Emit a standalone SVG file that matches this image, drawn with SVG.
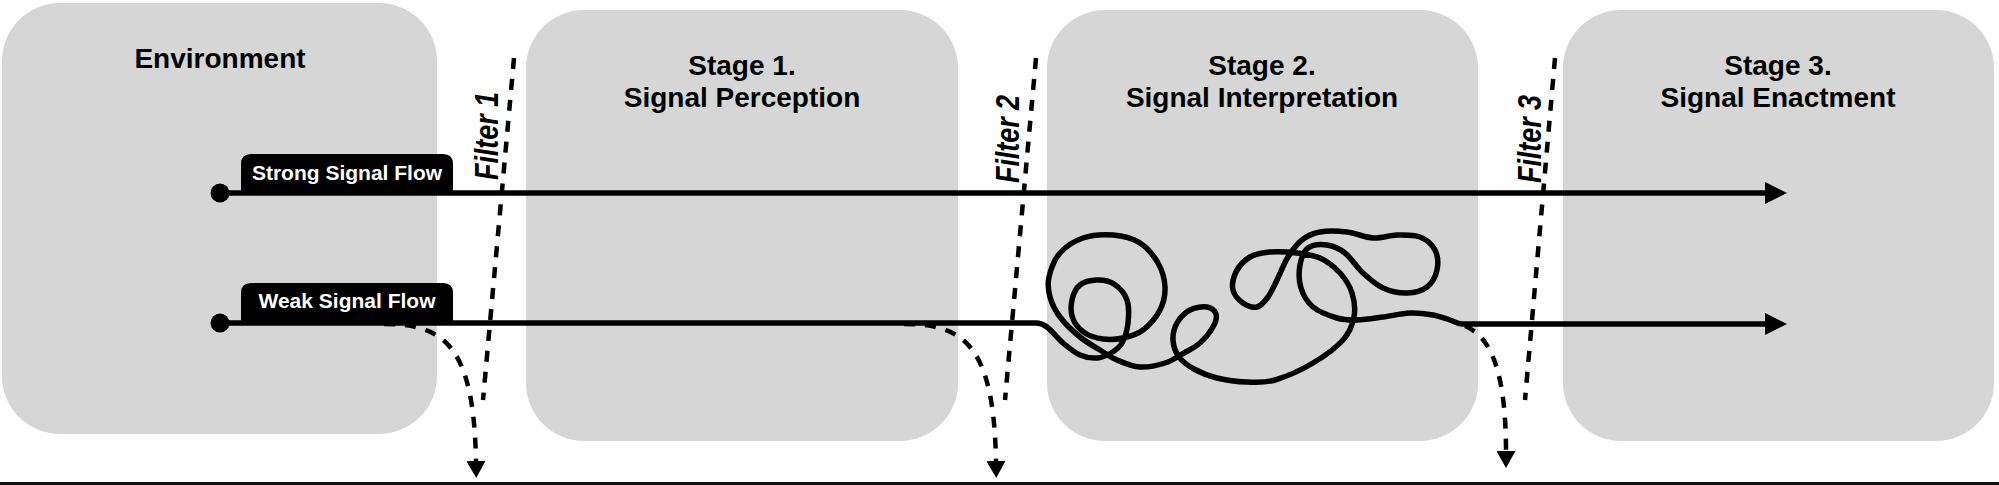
<svg xmlns="http://www.w3.org/2000/svg" width="1999" height="485" viewBox="0 0 1999 485">
<style>
.box{fill:#d6d6d6}
.title{font-family:"Liberation Sans",Arial,sans-serif;font-weight:bold;font-size:28px;fill:#000;text-anchor:middle}
.lbl{font-family:"Liberation Sans",Arial,sans-serif;font-weight:bold;font-size:21px;fill:#fff;text-anchor:middle}
.ftxt{font-family:"Liberation Sans",Arial,sans-serif;font-weight:bold;font-style:italic;font-size:33px;fill:#000}
.fline{fill:none;stroke:#000;stroke-width:4.5;stroke-dasharray:11 10}
.flow{fill:none;stroke:#000;stroke-width:5.5;stroke-linejoin:round}
.drop{fill:none;stroke:#000;stroke-width:4.5;stroke-dasharray:11 10}
</style>
<defs>
<marker id="ah" markerUnits="userSpaceOnUse" markerWidth="22" markerHeight="22" refX="10" refY="11" orient="auto">
<path d="M0,0 L22,11 L0,22 Z" fill="#000"/>
</marker>
<marker id="dh" markerUnits="userSpaceOnUse" markerWidth="19" markerHeight="19" refX="1" refY="9.5" orient="auto">
<path d="M0,0 L17,9.5 L0,19 Z" fill="#000"/>
</marker>
</defs>
<rect x="0" y="0" width="1999" height="485" fill="#fff"/>
<g id="environment">
<rect class="box" x="2" y="3" width="435" height="431" rx="58"/>
<text class="title" x="220" y="68">Environment</text>
</g>
<g id="stage1">
<rect class="box" x="526" y="10" width="432" height="431" rx="58"/>
<text class="title" x="742" y="75">Stage 1.</text>
<text class="title" x="742" y="107">Signal Perception</text>
</g>
<g id="stage2">
<rect class="box" x="1047" y="10" width="431" height="431" rx="58"/>
<text class="title" x="1262" y="75">Stage 2.</text>
<text class="title" x="1262" y="107">Signal Interpretation</text>
</g>
<g id="stage3">
<rect class="box" x="1563" y="10" width="431" height="431" rx="58"/>
<text class="title" x="1778" y="75">Stage 3.</text>
<text class="title" x="1778" y="107">Signal Enactment</text>
</g>
<g id="filter1">
<line class="fline" x1="514" y1="58" x2="483" y2="400"/>
<text class="ftxt" transform="translate(498,180) rotate(-90)" textLength="88" lengthAdjust="spacingAndGlyphs">Filter 1</text>
</g>
<g id="filter2">
<line class="fline" x1="1036" y1="58" x2="1005" y2="400"/>
<text class="ftxt" transform="translate(1019,183) rotate(-90)" textLength="88" lengthAdjust="spacingAndGlyphs">Filter 2</text>
</g>
<g id="filter3">
<line class="fline" x1="1555" y1="58" x2="1525" y2="400"/>
<text class="ftxt" transform="translate(1541,183) rotate(-90)" textLength="88" lengthAdjust="spacingAndGlyphs">Filter 3</text>
</g>
<g id="connectors">
<path class="drop" d="M384,324 C444,324 474,345 476,462" marker-end="url(#dh)"/>
<path class="drop" d="M904,324 C964,324 994,345 996,462" marker-end="url(#dh)"/>
<path class="drop" d="M1465,326 C1490,336 1506,370 1506,452" marker-end="url(#dh)"/>
<path class="flow" d="M220,193 H1775" marker-end="url(#ah)"/>
<path class="flow" marker-end="url(#ah)" d="M220,323 H1036 C1040,323 1042.5,323.7 1047,327
S1057.5,338.3 1063,343 S1074.3,352.5 1080,355 S1091.8,358.3 1097,358 S1106.8,355.5 1111,353
S1119.2,348 1122,343 S1127.2,330.2 1128,323 S1129.3,306.5 1127,300 S1119,287.3 1114,284
S1102.7,279.8 1097,280 S1084.2,281.7 1080,285 S1073.2,294.3 1072,300 S1070.8,313.5 1073,319
S1080,329.7 1085,333 S1096.7,338.2 1103,339 S1116.3,339.5 1123,338 S1136.8,334.7 1143,330
S1156.3,317.2 1160,310 S1165.3,294.8 1165,287 S1162.2,270.3 1158,263 S1147.5,247.7 1140,243
S1122.5,235.8 1113,235 S1091.8,235 1083,238 S1065.7,246.5 1060,253 S1050.7,269.7 1049,277
S1048.2,290.3 1050,297 S1055,310.3 1060,317 S1073.3,331.5 1080,337 S1093.8,346.2 1100,350
S1110.3,357.2 1117,360 S1132,366.5 1140,367 S1157.7,365.3 1165,363 S1178.2,356.3 1184,353
S1195.2,347.3 1200,343 S1210.3,331.8 1213,327 S1217,317.3 1216,314 S1211.3,307.7 1207,307
S1195,307.3 1190,310 S1179.8,318 1177,323 S1172.7,334.3 1173,340 S1175.5,352.2 1179,357
S1187.7,365.5 1194,369 S1208.2,375.8 1217,378 S1237.3,381.7 1247,382 S1264,383.2 1275,380
S1301.7,369.7 1313,363 S1336.2,347.7 1343,340 S1352.5,324.8 1354,317 S1354.3,300.3 1352,293
S1345.3,278.8 1340,273 S1327.2,261.3 1320,258 S1305.3,254 1297,253 S1277.8,251.3 1270,252
S1255.7,253.7 1250,257 S1238.8,266.5 1236,272 S1231.8,284.8 1233,290 S1239,300.2 1243,303
S1252.8,308 1257,307 S1264.7,301.5 1268,297 S1273.7,286.7 1277,280 S1283.8,263.7 1288,257
S1296.7,244.2 1302,240 S1312.5,233.3 1320,232 S1338.2,231 1347,232 S1364.7,237.5 1373,238
S1389.2,235.2 1397,235 S1413.7,234.5 1420,237 S1432.2,244.5 1435,250 S1438.3,263.8 1437,270
S1432,283.2 1427,287 S1414.3,292.8 1407,293 S1390.3,291.3 1383,288 S1369.3,278.8 1363,273
S1351,257.7 1345,253 S1333.2,245.8 1327,245 S1312.5,244.7 1308,248 S1301.2,258.3 1300,265
S1298.8,281 1301,288 S1307,302 1313,307 S1329.7,315.8 1337,318 S1349.3,320.2 1357,320
S1374.2,318.2 1383,317 S1401.7,313.3 1410,313 S1426.3,313.8 1433,315 S1445.2,318.5 1450,320
S1457,324 1462,324 H1775"/>
<circle cx="220" cy="193" r="9.5" fill="#000"/>
<circle cx="220" cy="323" r="9.5" fill="#000"/>
</g>
<g id="strong-label">
<path d="M241,195 V164 Q241,154 251,154 H443 Q453,154 453,164 V195 Z" fill="#000"/>
<text class="lbl" x="347" y="180">Strong Signal Flow</text>
</g>
<g id="weak-label">
<path d="M241,325 V293 Q241,283 251,283 H443 Q453,283 453,293 V325 Z" fill="#000"/>
<text class="lbl" x="347" y="308">Weak Signal Flow</text>
</g>
<rect x="0" y="482" width="1999" height="3" fill="#111"/>
</svg>
